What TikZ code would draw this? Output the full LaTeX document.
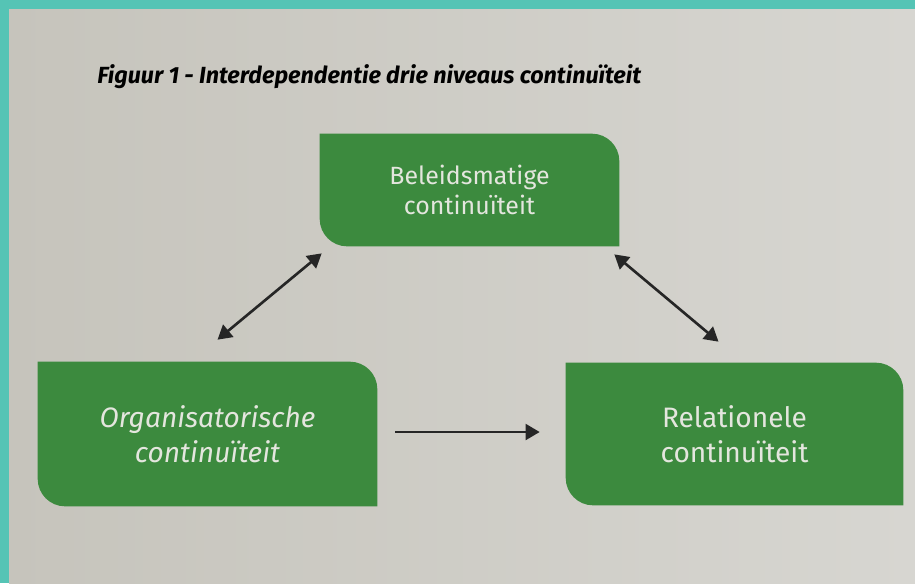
\documentclass[tikz,border=0pt]{standalone}
\usepackage{fontspec}
\setmainfont{Fira Sans}
\usetikzlibrary{arrows.meta,backgrounds}

\definecolor{turkoois}{HTML}{55C4B5}
\definecolor{papierlicht}{HTML}{D7D6D1}
\definecolor{papierdonker}{HTML}{C6C4BC}
\definecolor{groen}{HTML}{3C8A3E}
\definecolor{tekstwit}{HTML}{E4E6DE}

\tikzset{
  niveau/.style={text=tekstwit, align=center, inner sep=0pt},
  pijl/.style={line width=1.5pt, draw=black!85, -{Triangle[length=8pt,width=9pt]}},
  dubbelpijl/.style={pijl, {Triangle[length=8pt,width=9pt]}-{Triangle[length=8pt,width=9pt]}},
}

% groen blok met twee ronde hoeken (rechtsboven en linksonder)
\newcommand{\blokvorm}[2]{%
  \fill[groen] (#1.north west) -- ([xshift=-#2]#1.north east)
    arc[start angle=90, end angle=0, radius=#2] -- (#1.south east)
    -- ([xshift=#2]#1.south west)
    arc[start angle=270, end angle=180, radius=#2] -- cycle;}

\begin{document}
\begin{tikzpicture}[x=0.02cm, y=-0.02cm]

    \useasboundingbox (0,0) rectangle (915,583);

    % titel
    \node[anchor=west, inner sep=0pt] (titel) at (97,77)
      {\fontsize{13.3}{15}\selectfont\bfseries\itshape Figuur 1 - Interdependentie drie niveaus continuïteit};

    % de drie niveaus
    \node[niveau, minimum width=5.98cm, minimum height=2.24cm, font=\fontsize{14.2}{17.5}\selectfont]
      (beleid) at (469.5,190) {Beleidsmatige\\continuïteit};
    \node[niveau, minimum width=6.78cm, minimum height=2.88cm, font=\fontsize{16}{20}\selectfont\itshape]
      (organisatie) at (207.5,434) {Organisatorische\\continuïteit};
    \node[niveau, minimum width=6.74cm, minimum height=2.84cm, font=\fontsize{16}{20}\selectfont]
      (relatie) at (734.5,434) {Relationele\\continuïteit};

    \begin{scope}[on background layer]
      % papier en rand
      \fill[turkoois] (0,0) rectangle (915,583);
      \shade[left color=papierdonker, right color=papierlicht] (9,9) rectangle (915,583);
      \blokvorm{beleid}{0.55cm}
      \blokvorm{organisatie}{0.55cm}
      \blokvorm{relatie}{0.55cm}
    \end{scope}

    % pijlen
    \draw[dubbelpijl] ([shift={(10,-22)}]organisatie.north) -- ([shift={(2,7)}]beleid.south west);
    \draw[dubbelpijl] ([shift={(-5,8)}]beleid.south east) -- ([shift={(-16,-21)}]relatie.north);
    \draw[pijl] ([shift={(18,-2)}]organisatie.east) -- ([shift={(-26,-2)}]relatie.west);

\end{tikzpicture}
\end{document}
